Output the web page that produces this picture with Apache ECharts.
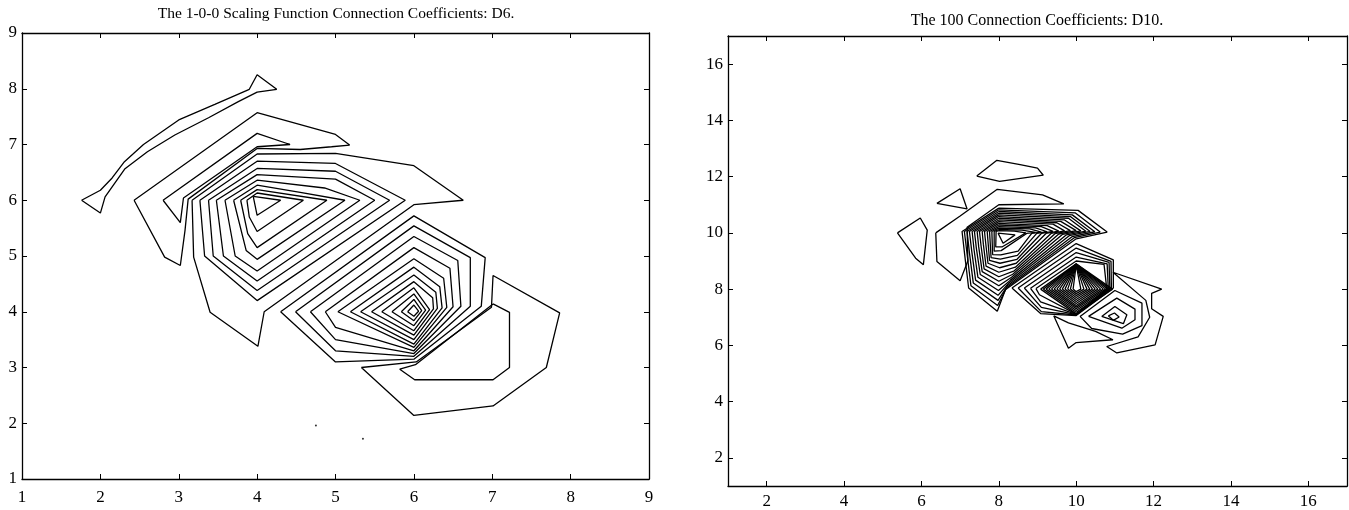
<!DOCTYPE html>
<html><head><meta charset="utf-8">
<script src="https://cdn.jsdelivr.net/npm/echarts@6/dist/echarts.min.js"></script>
<style>html,body{margin:0;padding:0;background:#fff}#c{width:1349px;height:510px}</style>
</head><body><div id="c"></div>
<script>
// ---------- Left chart (D6): contour polylines in data coordinates ----------
const d6Ticks = [1,2,3,4,5,6,7,8,9];
const d6Fish = [[1.76,6.0],[2.0,6.18],[2.15,6.4],[2.3,6.68],[2.55,7.0],[3.0,7.44],[3.46,7.72],[3.9,7.99],[4.0,8.25],[4.25,7.99],[4.0,7.94],[3.76,7.77],[3.38,7.48],[2.95,7.17],[2.6,6.87],[2.31,6.56],[2.06,6.06],[2.0,5.77],[1.76,6.0]];
const d6CrescentOuter = [[2.43,6.0],[4.0,7.57],[5.0,7.18],[5.18,6.99],[4.95,6.96],[4.55,6.91],[4.0,6.93],[3.12,6.02],[3.08,5.46],[3.02,4.83],[2.82,4.98],[2.43,6.0]];
const d6CrescentInner = [[2.8,6.0],[4.0,7.2],[4.42,7.0],[4.0,6.96],[3.06,6.04],[3.02,5.6],[2.8,6.0]];
const d6L9 = [[3.17,6.0],[4.0,6.83],[5.0,6.84],[6.0,6.62],[6.63,6.0],[6.0,5.92],[4.09,4.0],[4.01,3.38],[3.4,3.99],[3.19,4.98],[3.17,6.0]];
const d6L8 = [[3.27,6.0],[4.0,6.7],[5.0,6.66],[5.89,6.0],[4.0,4.2],[3.33,5.0],[3.27,6.0]];
const d6L7 = [[3.38,6.0],[4.0,6.57],[5.0,6.52],[5.69,6.0],[4.0,4.38],[3.44,5.0],[3.38,6.0]];
const d6L6 = [[3.48,6.0],[4.0,6.46],[5.0,6.38],[5.5,6.0],[4.0,4.55],[3.57,5.0],[3.48,6.0]];
const d6L5 = [[3.59,6.0],[4.0,6.36],[4.86,6.22],[5.31,6.0],[4.0,4.73],[3.72,5.0],[3.59,6.0]];
const d6L4 = [[3.70,6.0],[4.0,6.27],[4.55,6.14],[5.12,6.0],[4.0,4.94],[3.86,5.1],[3.70,6.0]];
const d6L3 = [[3.79,6.0],[4.0,6.19],[4.89,6.0],[4.0,5.15],[3.88,5.4],[3.79,6.0]];
const d6L2 = [[3.87,6.0],[4.0,6.13],[4.59,6.0],[4.0,5.44],[3.9,5.7],[3.87,6.0]];
const d6L1 = [[3.95,6.07],[4.30,6.0],[4.0,5.73],[3.95,6.07]];
const d6M1 = [[4.30,4.0],[6.0,5.72],[6.91,4.97],[6.86,4.1],[6.0,3.15],[5.0,3.1],[4.30,4.0]];
const d6M2 = [[4.49,4.0],[6.0,5.54],[6.72,4.97],[6.72,4.1],[6.0,3.2],[5.0,3.3],[4.49,4.0]];
const d6M3 = [[4.68,4.0],[6.0,5.35],[6.56,4.92],[6.6,4.1],[6.0,3.25],[5.0,3.5],[4.68,4.0]];
const d6M4 = [[4.87,4.0],[6.0,5.15],[6.46,4.78],[6.5,4.09],[6.0,3.3],[5.0,3.72],[4.87,4.0]];
const d6M5 = [[5.03,4.0],[6.0,4.95],[6.38,4.6],[6.42,4.08],[6.0,3.36],[5.03,4.0]];
const d6M6 = [[5.19,4.0],[6.0,4.8],[6.33,4.45],[6.36,4.07],[6.0,3.42],[5.19,4.0]];
const d6M7 = [[5.32,4.0],[6.0,4.66],[6.28,4.35],[6.3,4.06],[6.0,3.5],[5.32,4.0]];
const d6M8 = [[5.46,4.0],[6.0,4.54],[6.24,4.25],[6.25,4.05],[6.0,3.58],[5.46,4.0]];
const d6M9 = [[5.59,4.0],[6.0,4.43],[6.2,4.04],[6.0,3.66],[5.59,4.0]];
const d6M10 = [[5.72,4.0],[6.0,4.32],[6.15,4.03],[6.0,3.75],[5.72,4.0]];
const d6M11 = [[5.84,4.0],[6.0,4.22],[6.1,4.02],[6.0,3.84],[5.84,4.0]];
const d6M12 = [[5.92,4.0],[6.0,4.12],[6.06,4.01],[6.0,3.92],[5.92,4.0]];
const d6N1 = [[5.33,3.0],[6.0,2.14],[7.01,2.31],[7.69,3.0],[7.86,3.98],[7.01,4.65],[6.99,4.08],[6.03,3.1],[5.33,3.0]];
const d6N2 = [[7.01,4.14],[7.22,3.99],[7.22,3.0],[7.01,2.78],[6.01,2.78],[5.82,2.97],[6.02,3.05],[7.01,4.14]];
const d6Specks = [[4.75,1.96],[5.35,1.72]];

// ---------- Right chart (D10) ----------
const d10Ticks = [2,4,6,8,10,12,14,16];
const d10BlobTop = [[7.43,12.02],[7.95,12.58],[8.55,12.43],[9.0,12.3],[9.15,12.05],[8.02,11.83],[7.43,12.02]];
const d10BlobMid = [[6.4,11.05],[7.0,11.57],[7.18,10.85],[6.4,11.05]];
const d10BlobLeft = [[5.38,10.0],[5.97,10.53],[6.15,10.1],[6.05,8.87],[5.85,9.1],[5.38,10.0]];
const d10Crescent = [[6.37,10.0],[7.0,10.6],[7.96,11.55],[9.13,11.35],[9.68,11.03],[8.0,11.0],[7.18,10.2],[7.2,9.0],[7.0,8.3],[6.4,8.98],[6.37,10.0]];
// upper lobe loops (outer -> inner)
const d10V1 = [[8.0,10.88],[7.05,10.05],[7.12,9.2],[7.22,8.04],[7.96,7.21],[8.17,7.98],[10.0,9.79],[10.8,10.03],[10.05,10.8],[8.0,10.88]];
const d10V2 = [[8.0,10.82],[7.11,10.05],[7.18,9.25],[7.28,8.12],[7.97,7.42],[8.2,8.05],[9.95,9.83],[10.62,10.03],[9.98,10.71],[8.0,10.82]];
const d10V3 = [[8.0,10.76],[7.18,10.05],[7.24,9.3],[7.34,8.22],[7.98,7.6],[8.23,8.13],[9.9,9.87],[10.48,10.04],[9.9,10.64],[8.0,10.76]];
const d10V4 = [[8.0,10.7],[7.24,10.05],[7.3,9.35],[7.4,8.32],[7.98,7.78],[8.26,8.22],[9.82,9.9],[10.36,10.05],[9.85,10.58],[8.0,10.7]];
const d10V5 = [[8.0,10.64],[7.31,10.05],[7.36,9.4],[7.46,8.42],[7.99,7.95],[8.3,8.32],[9.75,9.93],[10.25,10.06],[9.8,10.52],[8.0,10.64]];
const d10V6 = [[8.0,10.58],[7.37,10.05],[7.42,9.45],[7.52,8.52],[8.0,8.12],[8.33,8.42],[9.65,9.95],[10.12,10.07],[9.7,10.46],[8.0,10.58]];
const d10V7 = [[8.0,10.52],[7.44,10.05],[7.48,9.5],[7.57,8.62],[8.0,8.28],[8.36,8.53],[9.55,9.96],[10.0,10.08],[9.6,10.41],[8.0,10.52]];
const d10V8 = [[8.0,10.46],[7.5,10.05],[7.54,9.55],[7.62,8.72],[8.0,8.44],[8.4,8.65],[9.45,9.97],[9.85,10.08],[9.5,10.36],[8.0,10.46]];
const d10V9 = [[8.0,10.4],[7.57,10.05],[7.6,9.6],[7.67,8.82],[8.0,8.6],[8.43,8.78],[9.35,9.98],[9.7,10.07],[9.4,10.31],[8.0,10.4]];
const d10V10 = [[8.0,10.34],[7.63,10.05],[7.66,9.65],[7.72,8.92],[8.02,8.76],[8.45,8.92],[9.22,9.98],[9.55,10.06],[9.25,10.26],[8.0,10.34]];
const d10V11 = [[8.0,10.28],[7.7,10.05],[7.72,9.7],[7.76,9.02],[8.03,8.92],[8.47,9.06],[9.1,9.98],[9.4,10.05],[9.1,10.22],[8.0,10.28]];
const d10V12 = [[8.0,10.22],[7.76,10.05],[7.8,9.12],[8.04,9.07],[8.48,9.2],[8.98,9.98],[9.25,10.04],[8.95,10.18],[8.0,10.22]];
const d10V13 = [[8.0,10.17],[7.82,10.05],[7.84,9.23],[8.05,9.22],[8.5,9.35],[8.85,9.98],[9.1,10.03],[8.8,10.14],[8.0,10.17]];
const d10V14 = [[8.0,10.12],[7.88,10.05],[7.88,9.35],[8.06,9.37],[8.72,9.98],[8.95,10.02],[8.6,10.1],[8.0,10.12]];
const d10V15 = [[8.0,10.08],[7.93,10.05],[7.92,9.5],[8.08,9.5],[8.7,10.0],[8.4,10.06],[8.0,10.08]];
const d10V16 = [[7.98,9.99],[8.42,9.93],[8.11,9.63],[7.98,9.99]];
// lower lobe: outer loops around the diamond
const d10W1 = [[8.34,8.04],[9.0,8.67],[10.0,9.62],[10.96,9.04],[10.96,8.04],[10.0,7.06],[9.08,7.13],[8.34,8.04]];
const d10W2 = [[8.5,8.04],[9.0,8.52],[10.0,9.46],[10.9,8.99],[10.91,8.04],[10.0,7.08],[9.1,7.2],[8.5,8.04]];
const d10W3 = [[8.66,8.04],[10.0,9.3],[10.85,8.95],[10.87,8.03],[10.0,7.09],[9.1,7.35],[8.66,8.04]];
const d10W4 = [[8.82,8.03],[10.0,9.14],[10.8,8.9],[10.83,8.02],[10.0,7.1],[9.08,7.55],[8.82,8.03]];
const d10W5 = [[8.96,8.02],[10.0,9.0],[10.72,8.88],[10.79,8.01],[10.0,7.11],[9.05,7.8],[8.96,8.02]];
// lower lobe: nested diamonds read along y=8 (left/right crossings) and x=10 (top/bottom crossings)
const d10DiamondLeft   = [9.08,9.15,9.22,9.29,9.36,9.43,9.5,9.57,9.64,9.71,9.78,9.85,9.92];
const d10DiamondRight  = [10.94,10.88,10.82,10.76,10.7,10.63,10.56,10.49,10.42,10.35,10.28,10.2,10.12];
const d10DiamondBottom = [7.12,7.18,7.24,7.3,7.36,7.42,7.49,7.56,7.63,7.7,7.77,7.84,7.91];
const d10DiamondTop    = [8.9,8.89,8.89,8.88,8.88,8.88,8.87,8.87,8.87,8.86,8.86,8.86,8.85];
// loops around (11,7)
const d10Z1 = [[10.1,7.03],[11.0,7.95],[11.7,7.5],[11.7,6.7],[11.2,6.4],[10.4,6.6],[10.1,7.03]];
const d10Z2 = [[10.32,7.03],[11.05,7.68],[11.52,7.29],[11.52,6.91],[11.18,6.61],[10.32,7.03]];
const d10Z3 = [[10.66,7.03],[11.0,7.38],[11.31,7.09],[11.22,6.77],[10.66,7.03]];
const d10Z4 = [[10.83,7.05],[10.99,7.15],[11.11,7.01],[10.96,6.89],[10.83,7.05]];
const d10P1 = [[10.95,8.6],[12.21,8.0],[11.95,7.85],[11.95,7.3],[12.25,7.03],[12.04,6.02],[11.05,5.73],[10.79,5.96],[11.6,6.3],[11.9,7.0],[11.8,7.6],[10.95,8.6]];
const d10P2 = [[9.42,7.05],[9.8,5.9],[10.0,6.1],[10.95,6.2],[10.5,6.5],[9.8,6.8],[9.42,7.05]];

const d6Lines = [d6Fish,d6CrescentOuter,d6CrescentInner,d6L9,d6L8,d6L7,d6L6,d6L5,d6L4,d6L3,d6L2,d6L1,d6M1,d6M2,d6M3,d6M4,d6M5,d6M6,d6M7,d6M8,d6M9,d6M10,d6M11,d6M12,d6N1,d6N2];
const d10Lines = [d10BlobTop,d10BlobMid,d10BlobLeft,d10Crescent,d10V1,d10V2,d10V3,d10V4,d10V5,d10V6,d10V7,d10V8,d10V9,d10V10,d10V11,d10V12,d10V13,d10V14,d10V15,d10V16,d10W1,d10W2,d10W3,d10W4,d10W5,d10Z1,d10Z2,d10Z3,d10Z4,d10P1,d10P2];
d10DiamondLeft.forEach((xl,i)=>{
  d10Lines.push([[xl,8.0],[10.0,d10DiamondTop[i]],[d10DiamondRight[i],8.0],[10.0,d10DiamondBottom[i]],[xl,8.0]]);
});

const FONT = '"Liberation Serif", "DejaVu Serif", serif';
const FS = 17;
function axis(extra){
  return Object.assign({
    type:'value', axisLine:{show:true,onZero:false,lineStyle:{color:'#000',width:1.3}},
    axisTick:{show:true,inside:true,length:5,lineStyle:{color:'#000',width:1}},
    splitLine:{show:false},
    axisLabel:{show:true,color:'#000',fontFamily:FONT,fontSize:FS,margin:7}
  }, extra);
}
function noLabel(a){ a.axisLabel = Object.assign({}, a.axisLabel, {show:false}); return a; }
const tick10 = {show:true,inside:true,length:5,customValues:d10Ticks,lineStyle:{color:'#000'}};
const xAxes = [
  axis({gridIndex:0,min:1,max:9,interval:1,position:'bottom',axisLabel:{color:'#000',fontFamily:FONT,fontSize:FS,margin:10}}),
  noLabel(axis({gridIndex:0,min:1,max:9,interval:1,position:'top'})),
  axis({gridIndex:1,min:1,max:17,position:'bottom',axisTick:tick10,axisLabel:{color:'#000',fontFamily:FONT,fontSize:FS,margin:7,customValues:d10Ticks}}),
  axis({gridIndex:1,min:1,max:17,position:'top',axisTick:tick10,axisLabel:{show:false,customValues:d10Ticks}})
];
const yAxes = [
  axis({gridIndex:0,min:1,max:9,interval:1,position:'left',axisLabel:{color:'#000',fontFamily:FONT,fontSize:FS,margin:5}}),
  noLabel(axis({gridIndex:0,min:1,max:9,interval:1,position:'right'})),
  axis({gridIndex:1,min:1,max:17,position:'left',axisTick:tick10,axisLabel:{color:'#000',fontFamily:FONT,fontSize:FS,margin:5,customValues:d10Ticks}}),
  axis({gridIndex:1,min:1,max:17,position:'right',axisTick:tick10,axisLabel:{show:false,customValues:d10Ticks}})
];
function mk(data, xi, yi){
  return {type:'line', xAxisIndex:xi, yAxisIndex:yi, data:data, symbol:'none', showSymbol:false, silent:true,
    lineStyle:{color:'#000',width:1.3}, animation:false};
}
const series = [];
d6Lines.forEach(d=>series.push(mk(d,0,0)));
d10Lines.forEach(d=>series.push(mk(d,2,2)));
series.push({type:'scatter',xAxisIndex:0,yAxisIndex:0,data:d6Specks,symbolSize:2,itemStyle:{color:'#000'},silent:true,animation:false});

const chart = echarts.init(document.getElementById('c'), null, {renderer:'canvas'});
chart.setOption({
  animation:false,
  backgroundColor:'#fff',
  grid:[{left:22,top:33,width:627,height:446},{left:728,top:36,width:619,height:450}],
  xAxis:xAxes, yAxis:yAxes, series:series,
  graphic:[
    {type:'text',x:336,y:6,style:{text:'The 1-0-0 Scaling Function Connection Coefficients: D6.',font:'15.5px '+FONT,fill:'#000',textAlign:'center'}},
    {type:'text',x:1037,y:13,style:{text:'The 100 Connection Coefficients: D10.',font:'16px '+FONT,fill:'#000',textAlign:'center'}}
  ]
});
</script></body></html>
